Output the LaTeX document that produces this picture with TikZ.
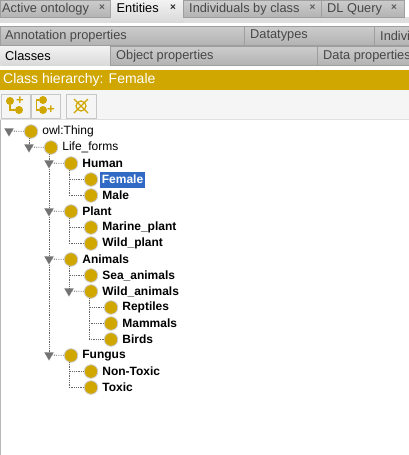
\documentclass[tikz,border=0pt]{standalone}
\usepackage{fontspec}
\setmainfont{Liberation Sans}
\usetikzlibrary{shapes.geometric}
\definecolor{owlGold}{HTML}{D0A600}
\definecolor{owlPanel}{HTML}{F5F5F5}
\definecolor{owlSel}{HTML}{316AC5}
\tikzset{
  tabbox/.style={draw=black!38, line width=0.8pt, inner sep=0pt, minimum height=19,
                 top color=black!20, bottom color=black!30},
  tabsel/.style={tabbox, top color=black!5, bottom color=black!15},
  tablab/.style={font=\fontsize{12.8}{14}\selectfont, text=black!72, inner sep=0pt},
  tabx/.style={font=\fontsize{10}{12}\selectfont\bfseries, text=black!65, inner sep=0pt},
  toolbtn/.style={draw=black!22, line width=0.8pt, fill=owlPanel, minimum width=29, minimum height=24, inner sep=0pt},
  tooldot/.style={circle, fill=owlGold, minimum size=8, inner sep=0pt},
  toolsign/.style={font=\fontsize{13}{13}\selectfont\bfseries, text=owlGold, inner sep=0pt},
  owlcls/.style={circle, draw=black!20, line width=0.8pt, fill=owlGold, minimum size=13.5, inner sep=0pt},
  owllab/.style={font=\fontsize{12}{14}\selectfont, inner sep=1pt, label distance=3pt},
  owlbold/.style={owllab, font=\fontsize{12}{14}\selectfont\bfseries},
  owlpick/.style={owlbold, fill=owlSel, text=white, minimum height=16, inner xsep=1.5pt, label distance=2pt},
  owltri/.style={regular polygon, regular polygon sides=3, shape border rotate=180,
                 fill=black!55, minimum size=11, inner sep=0pt},
  owldot/.style={draw=black!60, line width=0.8pt, densely dotted},
}

\begin{document}
\begin{tikzpicture}[x=1pt, y=-1pt]
  \useasboundingbox (0,0) rectangle (409,455);
  \clip (0,0) rectangle (409,455);
  \fill[white] (0,0) rectangle (409,455);
  \fill[black!13] (0,17) rectangle (409,22.5);
  \fill[owlPanel] (0,89) rectangle (409,119);
  \fill[black!28] (0,119) rectangle (1,455);
  \fill[black!12] (0,119) rectangle (409,120);

  % tabs, top row
  \node[tabbox, minimum width=110, minimum height=17, anchor=north west, label={[tablab, anchor=west, xshift=2]west:Active ontology}] (tabOnto) at (0,0) {};
  \node[tabsel, minimum width=73, minimum height=22, anchor=north west, draw=none, label={[tablab, anchor=west, xshift=6, yshift=3, text=black]west:Entities}] (tabEnt) at (110.5,0) {};
  \node[tabbox, minimum width=138, minimum height=17, anchor=north west, label={[tablab, anchor=west, xshift=6]west:Individuals by class}] (tabInd) at (183,0) {};
  \node[tabbox, minimum width=83, minimum height=17, anchor=north west, label={[tablab, anchor=west, xshift=6]west:DL Query}] (tabDL) at (321,0) {};
  \node[tabx] (xOnto) at (102,8) {×};
  \node[tabx, text=black!85] (xEnt) at (173,8) {×};
  \node[tabx] (xInd) at (312.5,8) {×};
  \node[tabx] (xDL) at (394,8) {×};

  % tabs, second and third row
  \node[tabbox, minimum width=244, anchor=north west, label={[tablab, anchor=west, xshift=5]west:Annotation properties}] (tabAnn) at (0,26) {};
  \node[tabbox, minimum width=130, anchor=north west, label={[tablab, anchor=west, xshift=6]west:Datatypes}] (tabType) at (244,26) {};
  \node[tabbox, minimum width=40, anchor=north west, label={[tablab, anchor=west, xshift=6]west:Indivi}] (tabIndiv) at (374,26) {};
  \node[tabsel, minimum width=110, anchor=north west, draw=none, label={[tablab, anchor=west, xshift=5, text=black]west:Classes}] (tabCls) at (0,46) {};
  \node[tabbox, minimum width=207, anchor=north west, label={[tablab, anchor=west, xshift=6]west:Object properties}] (tabObj) at (110,46) {};
  \node[tabbox, minimum width=100, anchor=north west, label={[tablab, anchor=west, xshift=6]west:Data properties}] (tabData) at (317,46) {};

  % title band
  \node[fill=owlGold, minimum width=409, minimum height=20, inner sep=0pt, anchor=north west,
        label={[text=white, inner sep=0pt, font=\fontsize{14}{16}\selectfont, anchor=west, xshift=3]west:Class hierarchy: Female}] (band) at (0,70) {};

  % toolbar
  \node[toolbtn] (btnSub) at (15.5,106) {};
  \node[toolbtn] (btnSib) at (45.5,106) {};
  \node[toolbtn, minimum width=30] (btnDel) at (81,106) {};
  \node[tooldot] (subA) at (10,101) {};
  \node[tooldot] (subB) at (19,110) {};
  \node[toolsign] (subPlus) at (20,100.5) {+};
  \draw[owlGold, line width=1.2pt] (subA) |- (subB);
  \node[tooldot] (sibA) at (43,100) {};
  \node[tooldot] (sibB) at (43,110) {};
  \node[toolsign] (sibPlus) at (51,110) {+};
  \draw[owlGold, line width=1.2pt] (sibA.west) -- ++(-2,0) |- (sibB.west);
  \node[circle, draw=owlGold, line width=1.2pt, minimum size=10, inner sep=0pt] (delDot) at (81,106) {};
  \draw[owlGold, line width=1.2pt] (74,99) -- (88,113) (88,99) -- (74,113);

  % classes
  \node[owlcls, label={[owllab]right:owl:Thing}] (thing) at (31,131.5) {};
  \node[owlcls, label={[owllab]right:Life\_forms}] (life) at (51,147.5) {};
  \node[owlcls, label={[owlbold]right:Human}] (human) at (71,163.5) {};
  \node[owlcls, label={[owlpick]right:Female}] (female) at (91,179.5) {};
  \node[owlcls, label={[owlbold]right:Male}] (male) at (91,195.5) {};
  \node[owlcls, label={[owlbold]right:Plant}] (plant) at (71,211.5) {};
  \node[owlcls, label={[owlbold]right:Marine\_plant}] (marine) at (91,227.5) {};
  \node[owlcls, label={[owlbold]right:Wild\_plant}] (wildp) at (91,243.5) {};
  \node[owlcls, label={[owlbold]right:Animals}] (animals) at (71,259.5) {};
  \node[owlcls, label={[owlbold]right:Sea\_animals}] (sea) at (91,275.5) {};
  \node[owlcls, label={[owlbold]right:Wild\_animals}] (wilda) at (91,291.5) {};
  \node[owlcls, label={[owlbold]right:Reptiles}] (reptiles) at (111,307.5) {};
  \node[owlcls, label={[owlbold]right:Mammals}] (mammals) at (111,323.5) {};
  \node[owlcls, label={[owlbold]right:Birds}] (birds) at (111,339.5) {};
  \node[owlcls, label={[owlbold]right:Fungus}] (fungus) at (71,355.5) {};
  \node[owlcls, label={[owlbold]right:Non-Toxic}] (nontoxic) at (91,371.5) {};
  \node[owlcls, label={[owlbold]right:Toxic}] (toxic) at (91,387.5) {};

  % expanders
  \node[owltri] (tThing) at (9,131) {};
  \node[owltri] (tLife) at (29,147) {};
  \node[owltri] (tHuman) at (49,163) {};
  \node[owltri] (tPlant) at (49,211) {};
  \node[owltri] (tAnimals) at (49,259) {};
  \node[owltri] (tWild) at (69,291) {};
  \node[owltri] (tFungus) at (49,355) {};
  \coordinate (hThing) at (29,138);
  \coordinate (hLife) at (49,154);
  \coordinate (hHuman) at (69,170);
  \coordinate (hPlant) at (69,218);
  \coordinate (hAnimals) at (69,266);
  \coordinate (hWild) at (89,298);
  \coordinate (hFungus) at (69,362);

  % connectors
  \draw[owldot] (tThing) -- (thing);
  \draw[owldot] (tLife) -- (life);
  \draw[owldot] (tHuman) -- (human);
  \draw[owldot] (tPlant) -- (plant);
  \draw[owldot] (tAnimals) -- (animals);
  \draw[owldot] (tWild) -- (wilda);
  \draw[owldot] (tFungus) -- (fungus);
  \draw[owldot] (hThing) -- (tLife);
  \draw[owldot] (hLife) -- (tHuman);
  \draw[owldot] (tHuman) -- (tPlant);
  \draw[owldot] (tPlant) -- (tAnimals);
  \draw[owldot] (tAnimals) -- (tFungus);
  \draw[owldot] (hHuman) |- (female);
  \draw[owldot] (hHuman) |- (male);
  \draw[owldot] (hPlant) |- (marine);
  \draw[owldot] (hPlant) |- (wildp);
  \draw[owldot] (hAnimals) |- (sea);
  \draw[owldot] (hAnimals) -- (tWild);
  \draw[owldot] (hWild) |- (reptiles);
  \draw[owldot] (hWild) |- (mammals);
  \draw[owldot] (hWild) |- (birds);
  \draw[owldot] (hFungus) |- (nontoxic);
  \draw[owldot] (hFungus) |- (toxic);
\end{tikzpicture}
\end{document}
